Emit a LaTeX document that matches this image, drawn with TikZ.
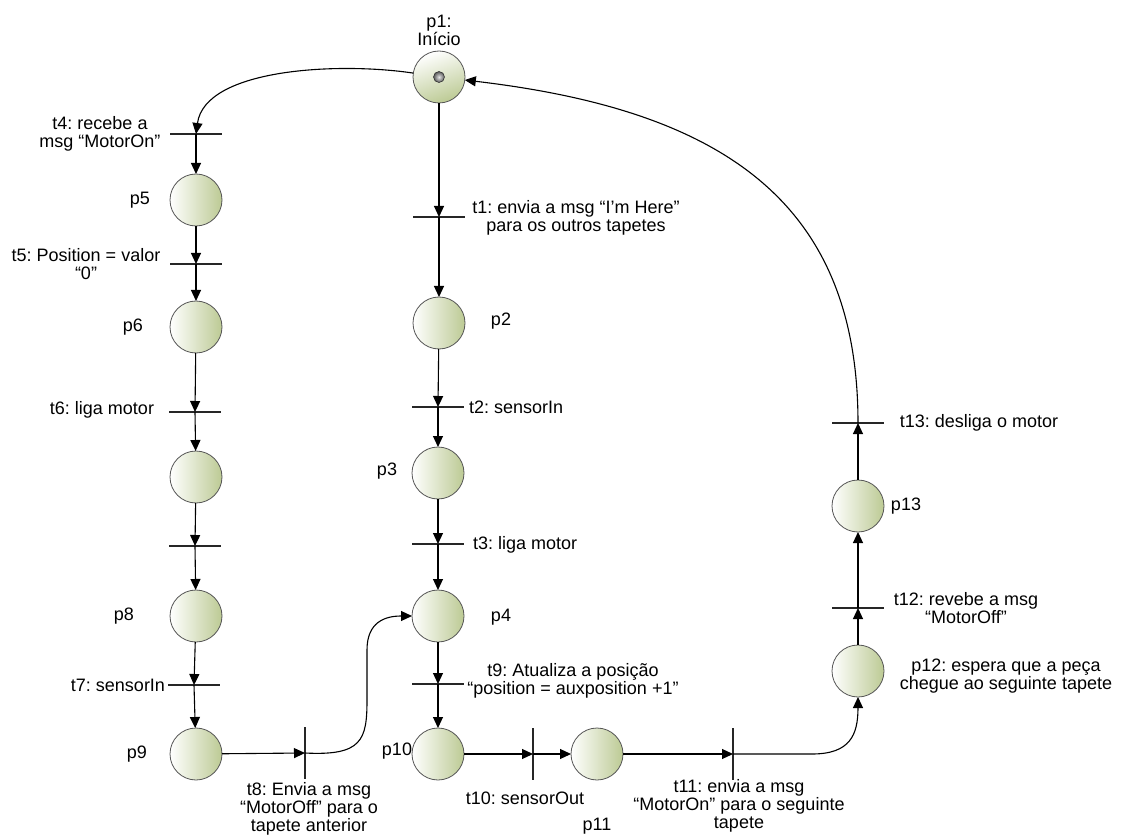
\documentclass[tikz,border=0pt]{standalone}
\usepackage{fontspec}
\setmainfont{Liberation Sans}
\usetikzlibrary{arrows.meta}
\definecolor{placegreen}{RGB}{188,202,148}
\definecolor{placeedge}{RGB}{85,85,85}
\frenchspacing
\begin{document}
\begin{tikzpicture}[x=1pt,y=-1pt,
  place/.style={circle, minimum size=52pt, inner sep=0pt, outer sep=0pt,
    draw=placeedge, line width=0.8pt, left color=white, right color=placegreen},
  startplace/.style={place, top color=white, bottom color=placegreen, shading angle=20},
  token/.style={circle, minimum size=11pt, inner sep=0pt, draw=black!80,
    line width=0.6pt, inner color=gray!20, outer color=gray!70!black},
  htrans/.style={rectangle, inner sep=0pt, outer sep=0pt, minimum width=52pt, minimum height=0pt},
  vtrans/.style={rectangle, inner sep=0pt, outer sep=0pt, minimum width=0pt, minimum height=52pt},
  bar/.style={draw=black!85, line width=1.3pt},
  arc/.style={draw=black, line width=1.1pt, -{Triangle[length=11pt,width=10pt]}},
  lbl/.style={font=\fontsize{18}{18}\selectfont, align=center, inner sep=0pt},
]
\useasboundingbox (0,0) rectangle (1125,837);

% places
\node[startplace] (p1) at (439,77) {};
\node[token] (tok) at (p1) {};
\node[place] (p5) at (196,200) {};
\node[place] (p6) at (196,327) {};
\node[place] (pA) at (196,477) {};
\node[place] (p8) at (196,616) {};
\node[place] (p9) at (196,754) {};
\node[place] (p2) at (439,323) {};
\node[place] (p3) at (438,473) {};
\node[place] (p4) at (438,616) {};
\node[place] (p10) at (438,754) {};
\node[place] (p11) at (597,754) {};
\node[place] (p12) at (858,671) {};
\node[place] (p13) at (858,506) {};

% transitions
\node[htrans] (t4) at (196,134) {};
\node[htrans] (t5) at (196,264) {};
\node[htrans] (t6) at (195,412) {};
\node[htrans] (tA) at (195,546) {};
\node[htrans] (t7) at (194,685) {};
\node[htrans] (t1) at (439,217) {};
\node[htrans] (t2) at (438,407) {};
\node[htrans] (t3) at (438,544) {};
\node[htrans] (t9) at (438,684) {};
\node[htrans] (t13) at (858,423) {};
\node[htrans] (t12) at (858,608) {};
\node[vtrans] (t8) at (305,753) {};
\node[vtrans] (t10) at (533,754) {};
\node[vtrans] (t11) at (733,754) {};

\foreach \t in {t4,t5,t6,tA,t7,t1,t2,t3,t9,t13,t12}
  \draw[bar] (\t.west) -- (\t.east);
\foreach \t in {t8,t10,t11}
  \draw[bar] (\t.north) -- (\t.south);

% labels
\node[lbl] (lp1) at (439,30) {p1:\\Início};
\node[lbl] (lt4) at (100,134) {t4: recebe a\\msg “MotorOn”};
\node[lbl] (lp5) at (140,200) {p5};
\node[lbl] (lt5) at (86,264) {t5: Position = valor\\“0”};
\node[lbl] (lp6) at (133,327) {p6};
\node[lbl] (lt6) at (102,410) {t6: liga motor};
\node[lbl] (lp8) at (124,616) {p8};
\node[lbl] (lt7) at (118,685) {t7: sensorIn};
\node[lbl] (lp9) at (137,754) {p9};
\node[lbl] (lt8) at (309,809) {t8: Envia a msg\\“MotorOff” para o\\tapete anterior};
\node[lbl] (lt1) at (576,218) {t1: envia a msg “I’m Here”\\para os outros tapetes};
\node[lbl] (lp2) at (501,321) {p2};
\node[lbl, anchor=west] (lt2) at (469,407) {t2: sensorIn};
\node[lbl] (lp3) at (387,471) {p3};
\node[lbl, anchor=west] (lt3) at (473,545) {t3: liga motor};
\node[lbl] (lp4) at (501,617) {p4};
\node[lbl] (lt9) at (573,681) {t9: Atualiza a posição\\“position = auxposition +1”};
\node[lbl] (lp10) at (397,751) {p10};
\node[lbl] (lt10) at (525,798) {t10: sensorOut};
\node[lbl] (lp11) at (597,826) {p11};
\node[lbl] (lt11) at (739,806) {t11: envia a msg\\“MotorOn” para o seguinte\\tapete};
\node[lbl] (lp12) at (1006,676) {p12: espera que a peça\\chegue ao seguinte tapete};
\node[lbl] (lt12) at (966,608) {t12: revebe a msg\\“MotorOff”};
\node[lbl] (lp13) at (906,506) {p13};
\node[lbl] (lt13) at (979,423) {t13: desliga o motor};

% arcs: left branch
\draw[arc] (p1) .. controls (340,62) and (205,68) .. (t4);
\draw[arc] (t4) -- (p5);
\draw[arc] (p5) -- (t5);
\draw[arc] (t5) -- (p6);
\draw[arc] (p6) -- (t6);
\draw[arc] (t6) -- (pA);
\draw[arc] (pA) -- (tA);
\draw[arc] (tA) -- (p8);
\draw[arc] (p8) -- (t7);
\draw[arc] (t7) -- (p9);
\draw[arc] (p9) -- (t8);
\draw[arc] (t8) .. controls (362,756) and (367,740) .. (367,700)
  -- (367,650) .. controls (367,622) and (385,616) .. (p4);

% arcs: middle branch
\draw[arc] (p1) -- (t1);
\draw[arc] (t1) -- (p2);
\draw[arc] (p2) -- (t2);
\draw[arc] (t2) -- (p3);
\draw[arc] (p3) -- (t3);
\draw[arc] (t3) -- (p4);
\draw[arc] (p4) -- (t9);
\draw[arc] (t9) -- (p10);
\draw[arc] (p10) -- (t10);
\draw[arc] (t10) -- (p11);
\draw[arc] (p11) -- (t11);

% arcs: right branch
\draw[arc] (t11) -- (812,754) .. controls (850,754) and (858,735) .. (p12);
\draw[arc] (p12) -- (t12);
\draw[arc] (t12) -- (p13);
\draw[arc] (p13) -- (t13);
\draw[arc] (t13) .. controls (858,200) and (720,110) .. (p1);
\end{tikzpicture}
\end{document}
